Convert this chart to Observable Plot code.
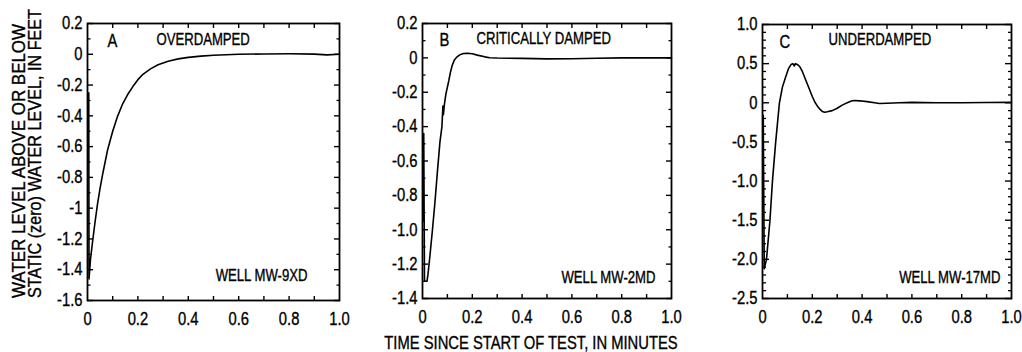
<!DOCTYPE html>
<html><head><meta charset="utf-8">
<script src="https://cdn.jsdelivr.net/npm/d3@7"></script>
<script src="https://cdn.jsdelivr.net/npm/@observablehq/plot@0.6"></script>
<style>
body{margin:0;background:#fff;}
#wrap{position:relative;width:1022px;height:352px;overflow:hidden;background:#fff;}
#wrap > svg{position:absolute;top:0;}
#titles{position:absolute;left:0;top:0;pointer-events:none;}
</style></head><body><div id="wrap"></div>
<script>
// ---------- data ----------
const timeA  = [0.005,0.006,0.012,0.02,0.03,0.04,0.05,0.06,0.07,0.08,0.09,0.10,0.12,0.14,0.16,0.18,0.20,0.22,0.25,0.28,0.32,0.36,0.40,0.45,0.50,0.55,0.60,0.70,0.80,0.90,0.95,1.00];
const levelA = [-0.25,-1.46,-1.33,-1.22,-1.09,-0.97,-0.87,-0.78,-0.70,-0.62,-0.56,-0.50,-0.40,-0.32,-0.26,-0.21,-0.165,-0.13,-0.095,-0.068,-0.045,-0.03,-0.02,-0.012,-0.006,-0.003,0,0.002,0.003,0.001,-0.004,0];

const timeB  = [0.003,0.005,0.008,0.018,0.022,0.03,0.04,0.05,0.06,0.07,0.078,0.082,0.084,0.088,0.094,0.1,0.106,0.112,0.119,0.128,0.139,0.15,0.165,0.18,0.2,0.22,0.25,0.27,0.3,0.4,0.5,0.6,0.7,0.8,0.9,1.0];
const levelB = [-0.95,-0.44,-1.30,-1.30,-1.26,-1.15,-1.00,-0.84,-0.66,-0.49,-0.40,-0.28,-0.33,-0.27,-0.21,-0.17,-0.13,-0.085,-0.045,-0.012,0.006,0.018,0.025,0.027,0.024,0.016,0.006,0.001,-0.001,-0.003,-0.006,-0.005,-0.002,0,0,0];

const timeC  = [0.003,0.007,0.016,0.03,0.04,0.053,0.068,0.08,0.093,0.105,0.115,0.122,0.128,0.132,0.14,0.15,0.16,0.17,0.18,0.19,0.2,0.21,0.22,0.23,0.24,0.25,0.26,0.28,0.3,0.32,0.34,0.36,0.37,0.39,0.42,0.45,0.47,0.5,0.55,0.6,0.7,0.8,0.9,1.0];
const levelC = [-0.16,-2.12,-2.0,-1.5,-1.0,-0.5,0,0.2,0.33,0.44,0.49,0.50,0.47,0.50,0.49,0.46,0.40,0.32,0.24,0.16,0.08,0.01,-0.04,-0.08,-0.11,-0.12,-0.115,-0.10,-0.07,-0.03,0,0.025,0.03,0.025,0.015,0,-0.01,-0.005,0,0.005,0,0,0.003,0.005];

// ---------- tick values and labels ----------
const xTicks       = [0, 0.2, 0.4, 0.6, 0.8, 1];
const xTickLabels  = ["0", "0.2", "0.4", "0.6", "0.8", "1.0"];
const xMinorTicks  = [0.1, 0.2, 0.3, 0.4, 0.5, 0.6, 0.7, 0.8, 0.9];

const yTicksA      = [0.2, 0, -0.2, -0.4, -0.6, -0.8, -1, -1.2, -1.4, -1.6];
const yTickLabelsA = ["0.2", "0", "-0.2", "-0.4", "-0.6", "-0.8", "-1", "-1.2", "-1.4", "-1.6"];
const yMinorA      = [0.1, -0.1, -0.3, -0.5, -0.7, -0.9, -1.1, -1.3, -1.5];

const yTicksB      = [0.2, 0, -0.2, -0.4, -0.6, -0.8, -1, -1.2, -1.4];
const yTickLabelsB = ["0.2", "0", "-0.2", "-0.4", "-0.6", "-0.8", "-1.0", "-1.2", "-1.4"];
const yMinorB      = [0.1, -0.1, -0.3, -0.5, -0.7, -0.9, -1.1, -1.3];

const yTicksC      = [1, 0.5, 0, -0.5, -1, -1.5, -2, -2.5];
const yTickLabelsC = ["1.0", "0.5", "0", "-0.5", "-1.0", "-1.5", "-2.0", "-2.5"];
const yMinorC      = [0.9,0.8,0.7,0.6,0.4,0.3,0.2,0.1,-0.1,-0.2,-0.3,-0.4,-0.6,-0.7,-0.8,-0.9,-1.1,-1.2,-1.3,-1.4,-1.6,-1.7,-1.8,-1.9,-2.1,-2.2,-2.3,-2.4];

const panelLetters = ["A", "B", "C"];
const panelTitles  = ["OVERDAMPED", "CRITICALLY DAMPED", "UNDERDAMPED"];
const wellNames    = ["WELL MW-9XD", "WELL MW-2MD", "WELL MW-17MD"];
const yTitleLines  = ["WATER LEVEL ABOVE OR BELOW", "STATIC (zero) WATER LEVEL, IN FEET"];
const xTitle       = "TIME SINCE START OF TEST, IN MINUTES";

// ---------- drawing ----------
const FONT = "'Liberation Sans', Arial, sans-serif";
const NARROW = 0.82; // condensed look: glyphs squeezed horizontally
const wrap = document.getElementById("wrap");

function panel(cfg) {
  const data = cfg.t.map((t, i) => ({t, v: cfg.v[i]}));
  const fmt = (vals, labs) => d => labs[vals.indexOf(d)];
  const p = Plot.plot({
    width: cfg.width, height: cfg.height,
    marginLeft: cfg.mL, marginRight: cfg.mR, marginTop: cfg.mT, marginBottom: cfg.mB,
    x: {domain: [0, 1]},
    y: {domain: cfg.yDomain},
    style: {fontFamily: FONT, fontSize: "18px", color: "#000", background: "transparent", overflow: "visible"},
    marks: [
      Plot.line(data, {x: "t", y: "v", stroke: "#000", strokeWidth: 1.6}),
      Plot.frame({stroke: "#000", strokeWidth: 1.8}),
      Plot.axisY(cfg.yTicks, {anchor: "left", tickSize: -cfg.major, tickPadding: 5 + cfg.major, tickFormat: fmt(cfg.yTicks, cfg.yLabels), label: null, strokeWidth: 1.4}),
      Plot.axisY(cfg.yMinor, {anchor: "left", tickSize: -cfg.minor, fill: "none", label: null, strokeWidth: 1.3}),
      Plot.axisY(cfg.yTicks, {anchor: "right", tickSize: -cfg.major, fill: "none", label: null, strokeWidth: 1.4}),
      Plot.axisY(cfg.yMinor, {anchor: "right", tickSize: -cfg.minor, fill: "none", label: null, strokeWidth: 1.3}),
      Plot.axisX(xMinorTicks, {anchor: "bottom", tickSize: -4, fill: "none", label: null, strokeWidth: 1.4}),
      Plot.axisX(xMinorTicks, {anchor: "top", tickSize: -4, fill: "none", label: null, strokeWidth: 1.4}),
      Plot.axisX(xTicks, {anchor: "bottom", tickSize: 0, tickPadding: 12, tickFormat: fmt(xTicks, xTickLabels), label: null}),
      Plot.text([cfg.letter], {text: d => d, frameAnchor: "top-left", textAnchor: "start", lineAnchor: "top", dx: cfg.letterDx, dy: cfg.letterDy, fontSize: 18, fill: "#000"}),
      Plot.text([cfg.title], {text: d => d, frameAnchor: "top-left", textAnchor: "start", lineAnchor: "top", dx: cfg.titleDx, dy: cfg.titleDy, fontSize: 16, fill: "#000"}),
      Plot.text([cfg.well], {text: d => d, frameAnchor: "bottom-right", textAnchor: "end", lineAnchor: "bottom", dx: cfg.wellDx, dy: cfg.wellDy, fontSize: 16, fill: "#000"})
    ]
  });
  p.style.left = cfg.left + "px";
  wrap.appendChild(p);
}

panel({t: timeA, v: levelA, yDomain: [-1.6, 0.2], yTicks: yTicksA, yLabels: yTickLabelsA, yMinor: yMinorA,
  major: 6, minor: 3.5, letter: panelLetters[0], title: panelTitles[0], well: wellNames[0],
  left: 0, width: 345, height: 335, mL: 87, mR: 6, mT: 23, mB: 35,
  letterDx: 20, letterDy: 11, titleDx: 69, titleDy: 10, wellDx: -32, wellDy: -20});

panel({t: timeB, v: levelB, yDomain: [-1.4, 0.2], yTicks: yTicksB, yLabels: yTickLabelsB, yMinor: yMinorB,
  major: 6, minor: 3.5, letter: panelLetters[1], title: panelTitles[1], well: wellNames[1],
  left: 345, width: 332, height: 333, mL: 77, mR: 6, mT: 23, mB: 35,
  letterDx: 17, letterDy: 10, titleDx: 54, titleDy: 9, wellDx: -16, wellDy: -16});

panel({t: timeC, v: levelC, yDomain: [-2.5, 1], yTicks: yTicksC, yLabels: yTickLabelsC, yMinor: yMinorC,
  major: 7, minor: 4, letter: panelLetters[2], title: panelTitles[2], well: wellNames[2],
  left: 683, width: 334, height: 333, mL: 79, mR: 6, mT: 24, mB: 35,
  letterDx: 17, letterDy: 11, titleDx: 66, titleDy: 9, wellDx: -11, wellDy: -16});

// axis titles
const svg = d3.select(wrap).append("svg").attr("id", "titles")
  .attr("width", 1022).attr("height", 352)
  .style("font-family", FONT).style("font-size", "18px");
svg.append("text").attr("transform", "translate(25,298) rotate(-90)")
  .attr("textLength", 274).attr("lengthAdjust", "spacingAndGlyphs").text(yTitleLines[0]);
svg.append("text").attr("transform", "translate(40.5,298) rotate(-90)")
  .attr("textLength", 289).attr("lengthAdjust", "spacingAndGlyphs").text(yTitleLines[1]);
svg.append("text").attr("x", 531).attr("y", 349).attr("text-anchor", "middle").text(xTitle);

// condense every other text horizontally (the reference uses a condensed face), slightly heavier strokes
wrap.querySelectorAll("svg text").forEach(t => {
  t.style.stroke = "#000";
  t.style.strokeWidth = "0.35px";
  if (t.hasAttribute("textLength")) return;
  const L = t.getComputedTextLength();
  if (L > 0) {
    t.setAttribute("textLength", (L * NARROW).toFixed(2));
    t.setAttribute("lengthAdjust", "spacingAndGlyphs");
  }
});
</script>
</body></html>
